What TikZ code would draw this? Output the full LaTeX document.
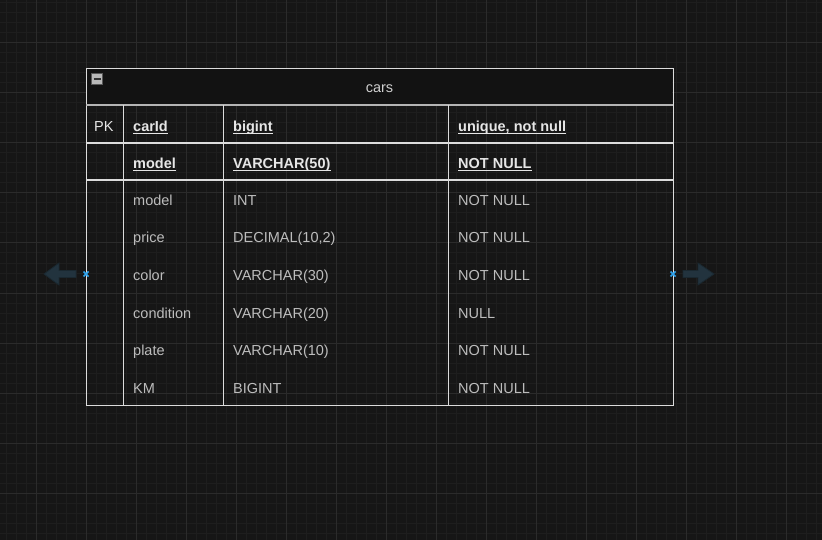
\documentclass[tikz,border=0pt]{standalone}
\usepackage{fontspec}
\setmainfont{Liberation Sans}
\definecolor{bg}{HTML}{161616}
\definecolor{gridminor}{HTML}{1E1E1E}
\definecolor{gridmajor}{HTML}{2B2B2B}
\definecolor{hdrfill}{HTML}{121212}
\definecolor{lineA}{HTML}{DCDCDC}
\definecolor{lineB}{HTML}{B4B4B4}
\definecolor{txtdata}{HTML}{BDBDBD}
\definecolor{txtbold}{HTML}{E6E6E6}
\definecolor{arrowfill}{HTML}{22333E}
\definecolor{arrowdraw}{HTML}{1A2830}
\definecolor{markblue}{HTML}{2FA4EE}
\tikzset{
  cell/.style={inner sep=0pt, anchor=base west},
  datatxt/.style={cell, text=txtdata},
  boldtxt/.style={cell, text=txtbold, font=\fontsize{14.5}{17}\selectfont\bfseries},
  uline/.style={txtbold, line width=1pt},
  hover/.style={fill=arrowfill, draw=arrowdraw, line width=0.8pt},
  crossline/.style={draw=markblue, line width=1.6pt},
}
\begin{document}
\begin{tikzpicture}[x=1pt,y=-1pt, font=\fontsize{14.5}{17}\selectfont]
\fill[bg] (0,0) rectangle (822,540);
\useasboundingbox (0,0) rectangle (822,540);
% grid
\foreach \x in {6,16,...,816} \draw[gridminor, line width=1pt] (\x,0) -- (\x,540);
\foreach \y in {3,13,...,533} \draw[gridminor, line width=1pt] (0,\y) -- (822,\y);
\foreach \x in {36,86,...,786} \draw[gridmajor, line width=1pt] (\x,0) -- (\x,540);
\foreach \y in {43,93,...,493} \draw[gridmajor, line width=1pt] (0,\y) -- (822,\y);

% table
\node[draw=lineA, line width=1.2pt, minimum width=587pt, minimum height=337pt, inner sep=0pt, anchor=north west] (tbl) at (86,68) {};
\fill[hdrfill] (86.6,68.6) rectangle (672.4,105);
\draw[lineB, line width=1.2pt] (86,105) -- (673,105);
\draw[lineA, line width=1.2pt] (86,143) -- (673,143);
\draw[lineA, line width=1.2pt] (86,180) -- (673,180);
\draw[lineA, line width=1pt] (123,105) -- (123,405);
\draw[lineA, line width=1pt] (223,105) -- (223,405);
\draw[lineA, line width=1pt] (448,105) -- (448,405);

% collapse icon
\node[draw=gray!70!black, fill=gray!55, minimum size=11pt, inner sep=0pt] (icon) at (97,79) {};
\draw[black!80, line width=1.6pt] ([xshift=-3.5pt]icon.center) -- ([xshift=3.5pt]icon.center);

% title
\node[text=txtbold!90!black, inner sep=0pt] (title) at (379.5,88.5) {cars};

% key rows
\node[cell, text=txtbold] (pk) at (94,131.5) {PK};
\node[boldtxt] (k1) at (133,131.5) {carId};
\node[boldtxt] (k2) at (233,131.5) {bigint};
\node[boldtxt] (k3) at (458,131.5) {unique, not null};
\node[boldtxt] (m1) at (133,168.5) {model};
\node[boldtxt] (m2) at (233,168.5) {VARCHAR(50)};
\node[boldtxt] (m3) at (458,168.5) {NOT NULL};
\foreach \n in {k1,k2,k3,m1,m2,m3}
  \draw[uline] ([yshift=-2.5pt]\n.base west) -- ([yshift=-2.5pt]\n.base east);

% data rows
\node[datatxt] (r1a) at (133,205.5) {model};
\node[datatxt] (r1b) at (233,205.5) {INT};
\node[datatxt] (r1c) at (458,205.5) {NOT NULL};
\node[datatxt] (r2a) at (133,243) {price};
\node[datatxt] (r2b) at (233,243) {DECIMAL(10,2)};
\node[datatxt] (r2c) at (458,243) {NOT NULL};
\node[datatxt] (r3a) at (133,280.5) {color};
\node[datatxt] (r3b) at (233,280.5) {VARCHAR(30)};
\node[datatxt] (r3c) at (458,280.5) {NOT NULL};
\node[datatxt] (r4a) at (133,318) {condition};
\node[datatxt] (r4b) at (233,318) {VARCHAR(20)};
\node[datatxt] (r4c) at (458,318) {NULL};
\node[datatxt] (r5a) at (133,355.5) {plate};
\node[datatxt] (r5b) at (233,355.5) {VARCHAR(10)};
\node[datatxt] (r5c) at (458,355.5) {NOT NULL};
\node[datatxt] (r6a) at (133,393) {KM};
\node[datatxt] (r6b) at (233,393) {BIGINT};
\node[datatxt] (r6c) at (458,393) {NOT NULL};

% hover arrows
\draw[hover] (44,274) -- (59,263) -- (59,270.5) -- (76,270.5) -- (76,277.5) -- (59,277.5) -- (59,285) -- cycle;
\draw[hover] (714,274) -- (698,263) -- (698,270.5) -- (683,270.5) -- (683,277.5) -- (698,277.5) -- (698,285) -- cycle;

% connection markers
\coordinate (cl) at (86,274);
\coordinate (cr) at (673,274);
\foreach \c in {cl,cr} {
  \draw[crossline] ([shift={(-2.5pt,-2.5pt)}]\c) -- ([shift={(2.5pt,2.5pt)}]\c);
  \draw[crossline] ([shift={(-2.5pt,2.5pt)}]\c) -- ([shift={(2.5pt,-2.5pt)}]\c);
}
\end{tikzpicture}
\end{document}
